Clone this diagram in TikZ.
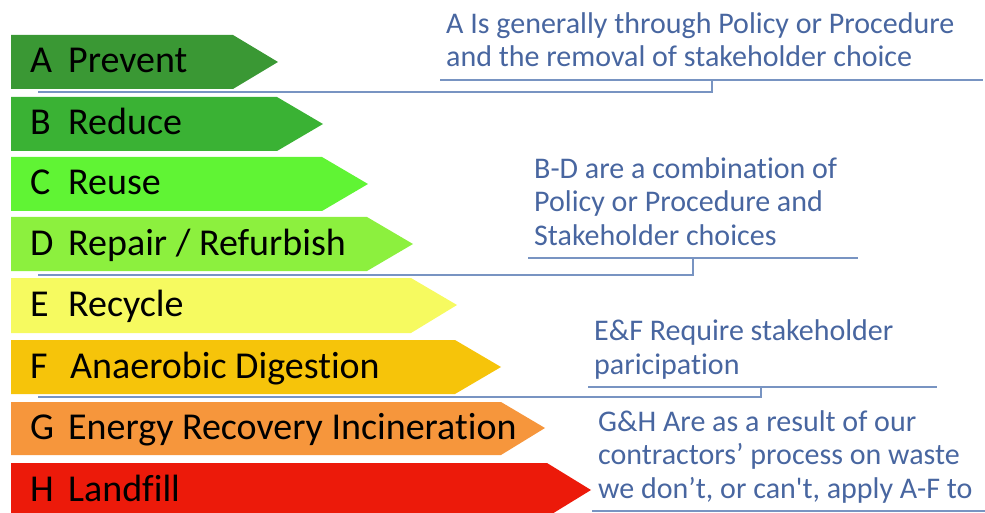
\documentclass[tikz,border=0pt]{standalone}
\usepackage{fontspec}
\setmainfont{Carlito}[Ligatures=NoCommon]
\newfontfamily\straight{Carlito}
\usetikzlibrary{positioning}

\definecolor{prevent}{RGB}{58,152,52}
\definecolor{reduce}{RGB}{58,178,52}
\definecolor{reuse}{RGB}{96,244,52}
\definecolor{repair}{RGB}{140,240,62}
\definecolor{recycle}{RGB}{246,250,96}
\definecolor{digest}{RGB}{246,196,10}
\definecolor{energy}{RGB}{246,150,60}
\definecolor{landfill}{RGB}{236,26,10}
\definecolor{notetext}{RGB}{72,102,160}
\definecolor{noteline}{RGB}{120,148,194}

\begin{document}
\begin{tikzpicture}[x=1pt, y=-1pt,
    lbl/.style={anchor=base west, inner sep=0pt, font=\fontsize{38}{40}\selectfont},
    note/.style={anchor=base west, inner sep=0pt, align=left, text=notetext, font=\fontsize{30}{33.5}\selectfont},
    callout/.style={draw=noteline, line width=1.6pt}]

    \clip (0,0) rectangle (985,513);

    % the eight bands
    \fill[prevent]  (11,35)  -- (233,35)  -- (278,62)  -- (233,89)  -- (11,89)  -- cycle;
    \fill[reduce]   (11,97)  -- (277,97)  -- (323,124) -- (277,151) -- (11,151) -- cycle;
    \fill[reuse]    (11,157) -- (322,157) -- (368,184) -- (322,211) -- (11,211) -- cycle;
    \fill[repair]   (11,217) -- (367,217) -- (413,244) -- (367,271) -- (11,271) -- cycle;
    \fill[recycle]  (11,278) -- (411,278) -- (457,305) -- (411,333) -- (11,333) -- cycle;
    \fill[digest]   (11,340) -- (455,340) -- (501,367) -- (455,394) -- (11,394) -- cycle;
    \fill[energy]   (11,402) -- (501,402) -- (545,428) -- (501,455) -- (11,455) -- cycle;
    \fill[landfill] (11,463) -- (547,463) -- (591,490) -- (547,517) -- (11,517) -- cycle;

    \node[lbl] (a) at (30,73)  {\makebox[38pt][l]{A}Prevent};
    \node[lbl] (b) at (30,135) {\makebox[38pt][l]{B}Reduce};
    \node[lbl] (c) at (30,195) {\makebox[38pt][l]{C}Reuse};
    \node[lbl] (d) at (30,255) {\makebox[38pt][l]{D}Repair / Refurbish};
    \node[lbl] (e) at (30,316) {\makebox[38pt][l]{E}Recycle};
    \node[lbl] (f) at (30,378) {\makebox[40pt][l]{F}Anaerobic Digestion};
    \node[lbl] (g) at (30,439) {\makebox[38pt][l]{G}Energy Recovery Incineration};
    \node[lbl] (h) at (30,501) {\makebox[38pt][l]{H}Landfill};

    % notes on the right (placed at the baseline of their last line)
    \node[note] (nA) at (446,67) {A Is generally through Policy or Procedure\\and the removal of stakeholder choice};
    \node[note] (nBD) at (534,245) {B-D are a combination of\\Policy or Procedure and\\Stakeholder choices};
    \node[note] (nEF) at (594,374) {E\&F Require stakeholder\\paricipation};
    \node[note] (nGH) at (598,498) {G\&H Are as a result of our\\contractors’ process on waste\\we don’t, or can{\straight'}t, apply A-F to};

    \coordinate (uA) at (712,80);   \coordinate (eA) at (38,92);
    \coordinate (uBD) at (693,258); \coordinate (eBD) at (38,275);
    \coordinate (uEF) at (761,387); \coordinate (eEF) at (38,397);

    \draw[callout] (440,80) -- (983,80);
    \draw[callout] (uA) |- (eA);
    \draw[callout] (528,258) -- (858,258);
    \draw[callout] (uBD) |- (eBD);
    \draw[callout] (588,387) -- (937,387);
    \draw[callout] (uEF) |- (eEF);
    \draw[callout] (592,511) -- (985,511);

\end{tikzpicture}
\end{document}
